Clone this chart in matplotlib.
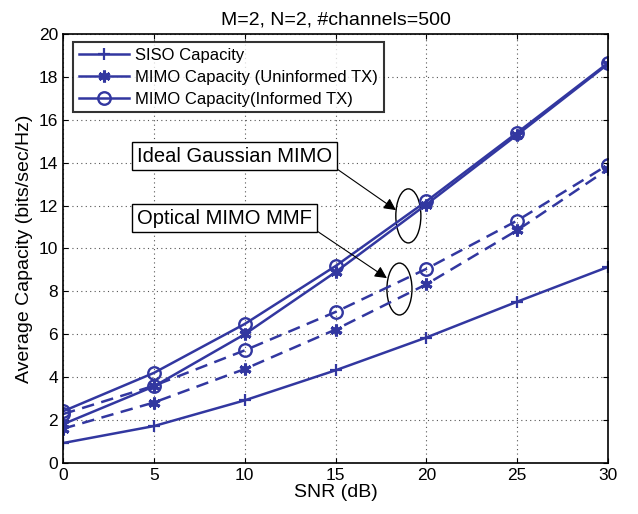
import numpy as np
import matplotlib
matplotlib.use('Agg')
from matplotlib import pyplot as plt
from matplotlib.patches import Ellipse

snr = [0, 5, 10, 15, 20, 25, 30]

siso = [0.93, 1.72, 2.92, 4.32, 5.85, 7.52, 9.14]
mimo_un = [1.81, 3.57, 6.0, 8.9, 12.05, 15.3, 18.6]
mimo_inf = [2.41, 4.2, 6.48, 9.18, 12.2, 15.4, 18.65]
mmf_un = [1.6, 2.82, 4.38, 6.22, 8.33, 10.85, 13.7]
mmf_inf = [2.28, 3.6, 5.25, 7.04, 9.05, 11.3, 13.9]

col = '#3237a0'
plt.rcParams['font.family'] = ['Liberation Sans', 'DejaVu Sans']

fig = plt.figure(figsize=(6.38, 5.14), dpi=100)
# axes box: x 63..608 px, y 34..463 px
ax = fig.add_axes([63 / 638, 1 - 463 / 514, 545 / 638, 429 / 514])

ax.plot(snr, siso, color=col, lw=1.8, marker='+', ms=9, mew=1.6, label='SISO Capacity')
ax.plot(snr, mimo_un, color=col, lw=1.8, marker=(6, 2, 0), ms=8.5, mew=2.2, label='MIMO Capacity (Uninformed TX)')
ax.plot(snr, mimo_inf, color=col, lw=1.8, marker='o', ms=9, mew=1.7, mfc='none', label='MIMO Capacity(Informed TX)')
ax.plot(snr, mmf_un, color=col, lw=1.8, ls=(0, (5, 3)), marker=(6, 2, 0), ms=8.5, mew=2.2)
ax.plot(snr, mmf_inf, color=col, lw=1.8, ls=(0, (5, 3)), marker='o', ms=9, mew=1.7, mfc='none')

ax.set_xlim(0, 30)
ax.set_ylim(0, 20)
ax.set_xticks(range(0, 31, 5))
ax.set_yticks(range(0, 21, 2))
ax.grid(True, ls=(0, (1, 3)), color='#555555', lw=0.8)
ax.tick_params(direction='in', top=True, right=True, labelsize=12.5)
for s in ax.spines.values():
    s.set_linewidth(1.2)

ax.set_xlabel('SNR (dB)', fontsize=14, labelpad=1)
ax.set_ylabel('Average Capacity (bits/sec/Hz)', fontsize=14, labelpad=4)
ax.set_title('M=2, N=2, #channels=500', fontsize=14, pad=7)

leg = ax.legend(loc='upper left', fontsize=12, frameon=True, fancybox=False,
                edgecolor='black', bbox_to_anchor=(0.018, 0.982),
                borderaxespad=0, handlelength=3.0, handletextpad=0.4,
                labelspacing=0.42, borderpad=0.35)
leg.get_frame().set_linewidth(1.5)

ax.add_patch(Ellipse((19.01, 11.52), 1.38, 2.52, fill=False, ec='black', lw=1))
ax.add_patch(Ellipse((18.52, 8.11), 1.38, 2.42, fill=False, ec='black', lw=1))

box = dict(boxstyle='square,pad=0.24', fc='white', ec='black', lw=1)
ax.annotate('Ideal Gaussian MIMO', xy=(18.33, 11.79), xytext=(4.07, 14.31),
            fontsize=14.5, bbox=box, va='center', ha='left',
            arrowprops=dict(arrowstyle='-|>', color='black', lw=0.8,
                            mutation_scale=18, shrinkA=0, shrinkB=0,
                            relpos=(1, 0)))
ax.annotate('Optical MIMO MMF', xy=(17.83, 8.62), xytext=(4.07, 11.42),
            fontsize=14.5, bbox=box, va='center', ha='left',
            arrowprops=dict(arrowstyle='-|>', color='black', lw=0.8,
                            mutation_scale=18, shrinkA=0, shrinkB=0,
                            relpos=(1, 0)))

fig.savefig('out.png', dpi=100)
